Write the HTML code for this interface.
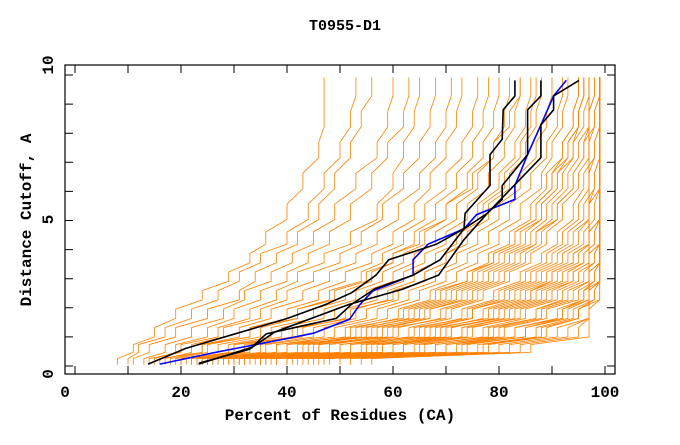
<!DOCTYPE html>
<html><head><meta charset="utf-8"><style>
html,body{margin:0;padding:0;background:#fff;}
svg text{font-family:"Liberation Mono","DejaVu Sans Mono",monospace;font-weight:bold;fill:#000;}
</style></head><body>
<svg id="chart" width="680" height="440" viewBox="0 0 680 440" xmlns="http://www.w3.org/2000/svg">
<rect x="0" y="0" width="680" height="440" fill="#fff"/>
<text x="345" y="30" font-size="15" text-anchor="middle">T0955-D1</text>
<text x="340" y="420" font-size="16" text-anchor="middle">Percent of Residues (CA)</text>
<text transform="translate(31,220) rotate(-90)" font-size="16" text-anchor="middle">Distance Cutoff, A</text>
<g id="series"></g>
<g id="axes"></g>
</svg>
<script>
const distLevels = [0.3,0.7,1.2,1.8,2.4,3,3.6,4.2,5,6,7,8,9,9.6];
const orangeSeries = [
[8,11,15,19,24,29,33,36,40,43,46,47,47,47],
[10,12,17,22,27,31,35,40,44,47,50,52,53,53],
[11,14,19,25,31,34,38,42,46,49,52,54,56,56],
[13,17,22,28,32,37,41,45,49,53,57,59,60,60],
[15,19,25,30,35,40,44,48,52,56,59,62,63,63],
[14,20,27,33,38,42,47,52,57,60,62,64,65,65],
[17,22,28,35,40,45,50,54,58,62,65,67,68,68],
[18,24,31,37,43,48,53,57,61,65,68,70,71,71],
[19,25,33,40,46,51,56,60,64,67,70,72,73,73],
[20,27,35,42,48,54,58,62,66,70,73,75,76,76],
[21,29,37,45,51,56,60,64,68,72,75,77,78,78],
[22,30,39,47,53,58,62,66,70,74,77,79,80,80],
[22,32,41,49,55,60,64,68,72,76,79,81,82,82],
[23,33,43,51,57,62,66,70,74,78,81,83,84,84],
[24,35,45,53,59,64,68,72,76,80,83,85,86,86],
[25,36,47,55,61,66,70,74,78,82,85,87,88,88],
[25,38,49,57,63,68,72,76,80,84,87,89,90,90],
[26,40,51,59,65,70,74,78,82,86,89,91,92,92],
[27,42,53,61,67,72,76,80,84,88,90,92,93,93],
[28,44,55,63,69,74,78,82,86,89,92,94,95,95],
[29,46,57,65,71,76,80,84,88,91,93,95,96,96],
[30,48,59,67,73,78,82,86,89,92,94,96,97,97],
[31,50,61,69,75,80,84,87,90,93,95,97,98,98],
[32,52,63,71,77,82,86,89,92,95,97,98,99,99],
[33,54,65,73,79,84,88,91,94,96,98,99,99,99],
[34,56,67,75,81,86,90,93,96,98,99,99,99,99],
[35,58,69,77,83,88,92,95,97,99,99,99,99,99],
[36,60,71,79,85,90,94,97,99,99,99,99,99,99],
[37,62,73,81,87,92,96,98,99,99,99,99,99,99],
[38,64,75,83,89,94,97,99,99,99,99,99,99,99],
[40,66,77,85,91,95,98,99,99,99,99,99,99,99],
[41,68,79,87,93,97,99,99,99,99,99,99,99,99],
[42,70,81,89,95,98,99,99,99,99,99,99,99,99],
[44,72,83,91,96,99,99,99,99,99,99,99,99,99],
[45,74,85,93,97,99,99,99,99,99,99,99,99,99],
[46,76,87,94,98,99,99,99,99,99,99,99,99,99],
[48,78,89,95,99,99,99,99,99,99,99,99,99,99],
[50,80,91,97,99,99,99,99,99,99,99,99,99,99],
[52,82,93,97,97,97,97,97,97,97,97,97,97,97],
[54,84,95,97,97,97,97,97,97,97,97,97,97,97],
[56,86,97,97,97,97,97,97,97,97,97,97,97,97],
[24,40,56,66,72,77,81,85,88,91,94,95,96,96],
[28,50,64,74,80,85,89,92,95,97,98,99,99,99],
[30,55,68,78,84,89,93,96,98,99,99,99,99,99],
[26,46,60,70,76,81,85,88,91,94,96,97,98,98],
[35,62,74,84,90,94,97,99,99,99,99,99,99,99],
[23,38,52,62,68,74,79,83,87,90,92,94,95,95],
[40,70,83,92,96,98,99,99,99,99,99,99,99,99],
[27,45,58,67,74,79,83,87,91,94,96,98,99,99],
[29,52,66,75,82,87,91,94,97,98,99,99,99,99],
[31,57,70,80,86,91,95,97,99,99,99,99,99,99],
[33,60,73,82,88,93,96,98,99,99,99,99,99,99],
[36,65,78,87,92,96,98,99,99,99,99,99,99,99],
[38,68,80,88,94,97,99,99,99,99,99,99,99,99],
[43,73,85,92,97,99,99,99,99,99,99,99,99,99],
[47,77,88,95,98,99,99,99,99,99,99,99,99,99],
[25,43,54,64,70,75,79,83,87,90,93,95,96,96],
[32,58,71,80,86,90,94,97,99,99,99,99,99,99],
[20,30,42,52,60,66,70,73,77,81,84,86,87,87],
[16,24,33,42,49,55,60,65,70,75,79,82,84,84]
];
const blackAx = [13.8,20.9,40.1,47.4,52.2,56.8,59.2,68.2,73.4,73.6,78.3,78.3,80.6,80.8,83,83];
const blackAy = [0.32,0.83,1.8,2.26,2.63,3.2,3.7,4.2,4.7,5.2,6.1,7.1,7.6,8.55,9.0,9.5];
const blackBx = [23.3,33.3,36.1,49.3,52.2,56.6,63.8,68.9,73.4,77.8,80.6,80.6,85.4,85.4,87.9,87.9];
const blackBy = [0.32,0.86,1.3,1.8,2.26,2.76,3.2,3.7,4.7,5.2,5.65,6.1,7.1,8.55,9.0,9.5];
const blackCx = [23.4,32.9,37.7,51.8,61.8,68.6,73.4,77.8,87.9,87.9,90.3,90.3,95.1];
const blackCy = [0.35,0.8,1.36,2.26,2.74,3.2,4.35,5.2,7.0,8.06,8.55,9.0,9.5];
const blueX = [16,26.5,33.7,41,45,51.8,53.8,56.2,63.8,63.8,66.6,73.4,75.8,83,83,85.4,87.9,90.3,92.7];
const blueY = [0.32,0.7,0.94,1.18,1.32,1.77,2.26,2.69,3.2,3.7,4.2,4.7,5.16,5.65,6.1,7.1,8.06,9.0,9.5];
const xTickLabels = [0,20,40,60,80,100];
const yTickLabels = [0,5,10];

const L=65,R=615,T=65,B=374;
function xs(v){return 75+5.3*v;}
function ys(v){return 374-30.9*v;}
const NS='http://www.w3.org/2000/svg';
const g=document.getElementById('series');
function line(xa,ya,color,w,name,zig){
  const pts=[];
  xa.forEach((x,i)=>{
    if(zig&&i>0){const ym=(ya[i-1]+ya[i])/2;pts.push([xs(xa[i-1]),ys(ym)]);}
    pts.push([xs(x),ys(ya[i])]);
  });
  const p=document.createElementNS(NS,'polyline');
  p.setAttribute('points',pts.map(q=>q[0].toFixed(1)+','+q[1].toFixed(1)).join(' '));
  p.setAttribute('fill','none');p.setAttribute('stroke',color);p.setAttribute('stroke-width',w);
  
  
  g.appendChild(p);
}
orangeSeries.forEach(s=>line(s,distLevels,'#ff8000',0.8,'orange-model-line',true));
line(blueX,blueY,'#0000ff',1.6,'blue-model-line',false);
line(blackAx,blackAy,'#000',1.6,'black-model-line-a',false);
line(blackBx,blackBy,'#000',1.6,'black-model-line-b',false);
line(blackCx,blackCy,'#000',1.6,'black-model-line-c',false);

const ax=document.getElementById('axes');
function el(tag,attrs){const e=document.createElementNS(NS,tag);for(const k in attrs)e.setAttribute(k,attrs[k]);ax.appendChild(e);return e;}
const fr=el('rect',{x:L,y:T,width:R-L,height:B-T,fill:'none',stroke:'#000','stroke-width':1.2});


for(let x=75;x<=R;x+=53){
  const t=el('path',{d:`M${x} ${B}v-8M${x} ${T}v8`,stroke:'#000','stroke-width':1});
  
  
}
for(let y=75;y<=B;y+=29.1){
  const t=el('path',{d:`M${L} ${y}h8M${R} ${y}h-8`,stroke:'#000','stroke-width':1});
  
  
}
xTickLabels.forEach(v=>{
  const x=v===0?L:xs(v);
  const t=el('text',{x:x,y:397,'font-size':16,'text-anchor':'middle'});
  t.textContent=v;
  
  
});
yTickLabels.forEach(v=>{
  const y=ys(v);
  const t=el('text',{transform:`translate(53,${y}) rotate(-90)`,'font-size':16,'text-anchor':'middle'});
  t.textContent=v;
  
  
});
</script>
</body></html>
